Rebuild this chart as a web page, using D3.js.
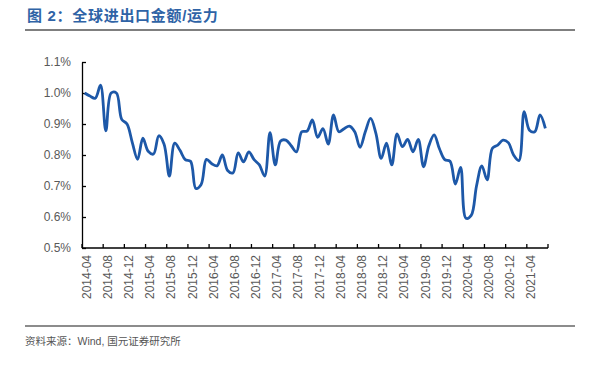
<!DOCTYPE html>
<html>
<head>
<meta charset="utf-8">
<script src="https://cdn.jsdelivr.net/npm/d3@7"></script>
<style>
  html, body { margin: 0; padding: 0; background: #fff; overflow: hidden; }
  #chart { width: 597px; height: 367px; }
  #chart svg { display: block; }
  text { font-family: "Liberation Sans", Arial, "Noto Sans CJK SC", sans-serif; }
  .chart-title { font-size: 15px; font-weight: bold; fill: #2f63a6; letter-spacing: 0.7px; }
  .source { font-size: 10.5px; fill: #555; }
  .axis text { font-size: 12px; fill: #595959; }
  .axis path, .axis line { stroke: #000; stroke-width: 1.3; }
</style>
</head>
<body>
<div id="chart"></div>
<script>
const TITLE = "图 2：全球进出口金额/运力";
const SOURCE = "资料来源：Wind, 国元证券研究所";

// monthly categories, 2014-04 .. 2021-07
const MONTHS = [
  "2014-04", "2014-05", "2014-06", "2014-07", "2014-08", "2014-09", "2014-10", "2014-11", "2014-12",
  "2015-01", "2015-02", "2015-03", "2015-04", "2015-05", "2015-06", "2015-07", "2015-08", "2015-09", "2015-10", "2015-11", "2015-12",
  "2016-01", "2016-02", "2016-03", "2016-04", "2016-05", "2016-06", "2016-07", "2016-08", "2016-09", "2016-10", "2016-11", "2016-12",
  "2017-01", "2017-02", "2017-03", "2017-04", "2017-05", "2017-06", "2017-07", "2017-08", "2017-09", "2017-10", "2017-11", "2017-12",
  "2018-01", "2018-02", "2018-03", "2018-04", "2018-05", "2018-06", "2018-07", "2018-08", "2018-09", "2018-10", "2018-11", "2018-12",
  "2019-01", "2019-02", "2019-03", "2019-04", "2019-05", "2019-06", "2019-07", "2019-08", "2019-09", "2019-10", "2019-11", "2019-12",
  "2020-01", "2020-02", "2020-03", "2020-04", "2020-05", "2020-06", "2020-07", "2020-08", "2020-09", "2020-10", "2020-11", "2020-12",
  "2021-01", "2021-02", "2021-03", "2021-04", "2021-05", "2021-06", "2021-07",
];

// 金额/运力, in %
const RATIO = [
  1.000, 0.990, 0.983, 1.025, 0.878, 1.000, 1.000, 0.915, 0.900,
  0.840, 0.786, 0.854, 0.812, 0.803, 0.862, 0.835, 0.732, 0.838, 0.815, 0.785, 0.780,
  0.692, 0.705, 0.786, 0.772, 0.765, 0.800, 0.750, 0.742, 0.807, 0.778, 0.810, 0.785,
  0.768, 0.732, 0.872, 0.768, 0.845, 0.848, 0.830, 0.810, 0.875, 0.877, 0.913, 0.857,
  0.885, 0.835, 0.929, 0.875, 0.885, 0.893, 0.875, 0.825, 0.875, 0.918, 0.870, 0.789,
  0.838, 0.768, 0.868, 0.827, 0.850, 0.810, 0.850, 0.762, 0.830, 0.865, 0.820, 0.785,
  0.780, 0.706, 0.760, 0.596, 0.605, 0.700, 0.765, 0.720, 0.822, 0.832, 0.848, 0.840,
  0.800, 0.782, 0.940, 0.880, 0.875, 0.929, 0.886,
];

const Y_TICKS = [0.5, 0.6, 0.7, 0.8, 0.9, 1.0, 1.1];
const X_TICK_LABELS = MONTHS.filter((m, i) => i % 4 === 0);

const width = 597;
const height = 367;
const margin = { top: 62, right: 49, bottom: 119, left: 82 };
const innerWidth = width - margin.left - margin.right;
const innerHeight = height - margin.top - margin.bottom;

const svg = d3.select("#chart")
  .append("svg")
  .attr("width", width)
  .attr("height", height)
  .attr("viewBox", `0 0 ${width} ${height}`);

svg.append("text")
  .attr("class", "chart-title")
  .attr("x", 27)
  .attr("y", 21)
  .text(TITLE);

svg.append("line")
  .attr("x1", 25).attr("x2", 575)
  .attr("y1", 30).attr("y2", 30)
  .attr("stroke", "#555")
  .attr("stroke-width", 1.5);

svg.append("line")
  .attr("x1", 25).attr("x2", 575)
  .attr("y1", 326).attr("y2", 326)
  .attr("stroke", "#666")
  .attr("stroke-width", 1.5);

svg.append("text")
  .attr("class", "source")
  .attr("x", 25)
  .attr("y", 345)
  .text(SOURCE);

const g = svg.append("g").attr("transform", `translate(${margin.left},${margin.top})`);

const x = d3.scaleBand().domain(MONTHS).range([0, innerWidth]).padding(0);
const y = d3.scaleLinear().domain([0.5, 1.1]).range([innerHeight, 0]);

// y axis, ticks pointing inward
const yAxis = g.append("g")
  .attr("class", "axis y-axis")
  .call(d3.axisLeft(y).tickValues(Y_TICKS).tickSize(-4).tickSizeOuter(0)
    .tickFormat((d) => d3.format(".1f")(d) + "%"));
yAxis.selectAll(".tick text").attr("x", -11);

// x axis: ticks at category boundaries, labels at category centers
const xAxis = g.append("g")
  .attr("class", "axis x-axis")
  .attr("transform", `translate(0,${innerHeight})`);

xAxis.append("line")
  .attr("x1", 0).attr("x2", innerWidth)
  .attr("y1", 0).attr("y2", 0);

const tickPos = X_TICK_LABELS.map((m) => x(m)).concat([innerWidth]);
xAxis.selectAll(".xtick")
  .data(tickPos)
  .join("line")
  .attr("class", "xtick")
  .attr("x1", (d) => d).attr("x2", (d) => d)
  .attr("y1", 0).attr("y2", -4);

xAxis.selectAll(".xlabel")
  .data(X_TICK_LABELS)
  .join("text")
  .attr("class", "xlabel")
  .attr("transform", (d) => `translate(${x(d) + x.bandwidth() / 2},7) rotate(-90)`)
  .attr("dy", "0.5em")
  .attr("text-anchor", "end")
  .text((d) => d);

const line = d3.line()
  .x((d, i) => x(MONTHS[i]) + x.bandwidth() / 2)
  .y((d) => y(d))
  .curve(d3.curveCatmullRom.alpha(0.5));

g.append("path")
  .datum(RATIO)
  .attr("fill", "none")
  .attr("stroke", "#1d58a8")
  .attr("stroke-width", 2.8)
  .attr("stroke-linejoin", "round")
  .attr("d", line);
</script>
</body>
</html>
